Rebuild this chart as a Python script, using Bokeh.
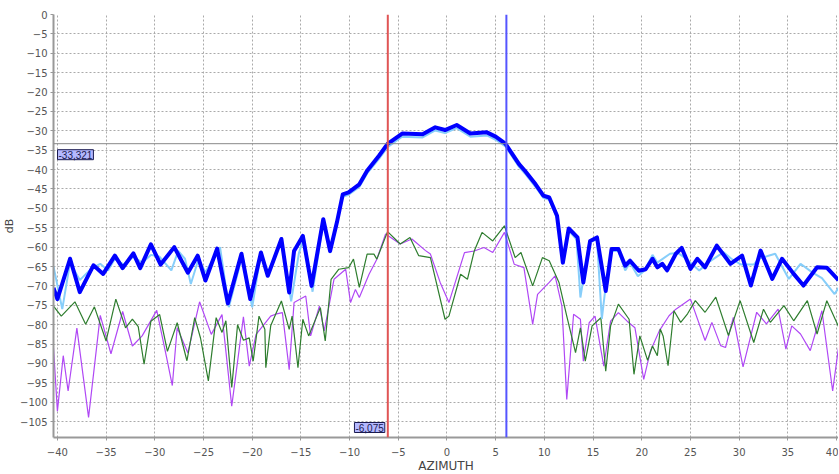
from bokeh.plotting import figure
from bokeh.models import Span, Label, Range1d, SingleIntervalTicker
from bokeh.embed import file_html
from bokeh.resources import INLINE

# ---- data (azimuth in degrees, level in dB) ----
blue_az = [-40.4, -40.0, -38.7, -37.7, -36.3, -35.3, -34.1, -33.3, -32.2, -31.5, -30.4, -29.4, -28.0, -26.6,
           -25.6, -24.8, -23.6, -22.5, -21.1, -20.2, -19.1, -18.4, -17.0, -16.2, -15.7, -14.8, -13.9, -12.7,
           -12.0, -11.3, -10.7, -10.1, -9.0, -8.2, -7.0, -6.1, -4.6, -2.5, -1.2, -0.2, 1.0, 2.4, 4.1, 5.0,
           6.0, 7.4, 8.0, 9.1, 9.9, 10.5, 11.3, 11.9, 12.5, 13.4, 14.0, 14.7, 15.4, 16.3, 16.9, 17.6, 18.3,
           18.8, 19.7, 20.4, 21.1, 21.6, 22.1, 22.6, 23.5, 24.1, 25.0, 25.7, 26.5, 27.7, 29.1, 30.3, 31.2,
           32.2, 33.4, 34.4, 35.6, 36.6, 38.0, 39.0, 40.2]
blue_db = [-70.5, -73.4, -63.0, -71.6, -64.7, -66.9, -62.2, -65.4, -61.6, -65.4, -59.3, -64.5, -60.0, -66.6,
           -62.2, -68.6, -60.4, -74.5, -61.7, -73.4, -61.4, -67.4, -57.9, -71.7, -61.0, -57.1, -70.0, -52.8,
           -61.0, -53.6, -46.4, -45.9, -43.8, -40.3, -36.5, -33.4, -30.7, -30.9, -29.1, -29.8, -28.5, -30.7,
           -30.4, -31.5, -33.3, -38.6, -40.3, -43.8, -46.7, -47.2, -51.9, -64.0, -55.2, -57.5, -69.1, -58.4,
           -57.5, -71.3, -60.5, -60.5, -64.8, -63.5, -66.1, -65.7, -63.0, -65.2, -64.3, -66.0, -61.7, -60.2,
           -65.6, -63.0, -65.2, -59.6, -64.3, -62.2, -69.9, -60.9, -68.2, -63.0, -66.9, -69.9, -65.2, -65.3,
           -68.5]

light_az = [-40.4, -39.5, -38.7, -37.7, -36.5, -35.6, -34.8, -34.1, -33.2, -32.2, -31.3, -30.4, -29.5, -28.3,
            -27.6, -26.9, -26.3, -25.5, -24.8, -23.3, -22.4, -21.0, -20.0, -19.1, -18.4, -17.0, -16.0, -15.2,
            -14.7, -13.8, -12.7, -12.0, -11.3, -10.7, -10.1, -9.0, -8.2, -7.0, -6.1, -4.6, -2.5, -1.2, -0.2,
            1.0, 2.4, 4.1, 5.0, 6.0, 7.4, 8.0, 9.1, 9.9, 10.5, 11.3, 11.9, 12.5, 13.3, 13.7, 14.6, 15.4, 15.9,
            16.3, 16.9, 17.6, 18.3, 18.8, 19.6, 20.3, 21.1, 21.6, 22.9, 23.7, 24.3, 25.9, 26.8, 28.4, 29.2,
            30.2, 31.5, 32.0, 33.7, 35.1, 36.3, 37.5, 38.5, 39.8, 40.2]
light_db = [-65.0, -76.0, -64.0, -68.5, -65.5, -64.3, -66.0, -63.0, -64.5, -62.5, -64.0, -62.0, -62.5, -66.0,
            -61.0, -63.0, -69.5, -63.0, -66.5, -60.0, -75.5, -62.0, -75.5, -61.5, -66.5, -58.5, -74.0, -61.5,
            -57.5, -71.5, -53.5, -61.5, -54.0, -47.0, -46.5, -44.5, -41.0, -37.3, -34.2, -31.5, -31.7, -29.9,
            -30.6, -29.3, -31.5, -31.2, -32.3, -34.0, -39.3, -41.0, -44.5, -47.3, -47.8, -52.5, -63.0, -55.8,
            -58.0, -73.0, -58.8, -58.0, -78.5, -70.0, -61.0, -61.0, -66.0, -64.0, -67.5, -66.0, -62.0, -64.0,
            -61.7, -61.5, -62.5, -66.0, -64.0, -61.3, -63.0, -64.5, -64.5, -63.0, -61.7, -68.2, -64.3, -66.5,
            -68.0, -72.1, -70.5]

green_az = [-40.4, -39.6, -38.2, -37.1, -36.2, -35.0, -34.0, -33.0, -32.3, -31.7, -31.1, -30.4, -29.5, -28.7,
            -27.7, -26.7, -25.9, -25.3, -24.5, -23.7, -23.1, -22.7, -22.1, -21.5, -20.9, -20.3, -19.9, -19.3,
            -18.7, -18.6, -18.1, -17.0, -16.2, -15.9, -15.3, -14.8, -14.2, -13.0, -12.5, -11.9, -11.1, -10.1,
            -9.6, -9.0, -8.2, -7.5, -7.2, -6.1, -4.8, -3.8, -2.9, -1.7, -0.2, 0.2, 1.4, 2.1, 2.8, 3.6, 4.7,
            5.9, 7.0, 7.6, 8.8, 9.8, 10.5, 11.5, 12.3, 13.2, 13.7, 14.2, 14.9, 15.8, 16.3, 16.8, 17.6, 18.7,
            19.2, 19.8, 20.6, 21.1, 21.6, 21.9, 22.2, 22.7, 23.3, 24.0, 24.7, 25.5, 26.5, 27.6, 28.9, 30.1,
            31.5, 32.5, 33.2, 34.6, 35.6, 37.0, 38.0, 39.0, 40.2]
green_db = [-75.2, -77.8, -74.1, -79.9, -75.4, -84.2, -73.4, -80.8, -78.6, -80.5, -90.2, -79.1, -77.4, -86.9,
            -79.5, -89.3, -78.2, -83.5, -94.5, -78.2, -82.0, -79.0, -96.2, -80.0, -84.0, -83.4, -89.4, -77.8,
            -81.2, -91.1, -80.3, -73.9, -81.2, -77.8, -91.1, -78.6, -82.9, -75.6, -84.2, -68.3, -65.7, -65.3,
            -63.1, -70.4, -61.8, -61.8, -63.1, -56.0, -59.2, -57.5, -62.2, -62.7, -78.6, -77.8, -67.0, -68.3,
            -61.0, -56.2, -58.4, -54.5, -62.7, -61.4, -70.0, -62.7, -63.5, -69.1, -77.8, -87.2, -80.8, -89.4,
            -80.3, -78.2, -92.0, -80.3, -74.7, -78.6, -92.8, -82.9, -89.2, -85.5, -88.0, -81.1, -83.0, -90.6,
            -76.4, -79.4, -77.2, -73.8, -76.8, -72.9, -82.8, -73.8, -84.6, -76.0, -79.4, -75.1, -79.0, -73.8,
            -82.4, -73.8, -80.5]

purple_az = [-40.4, -40.0, -39.4, -38.9, -38.0, -36.8, -35.6, -34.5, -33.3, -32.3, -31.3, -29.8, -28.8, -28.2,
             -27.7, -26.6, -25.4, -24.2, -23.1, -22.1, -20.9, -20.3, -19.6, -18.9, -18.1, -17.6, -16.9, -16.2,
             -15.7, -14.5, -14.0, -13.1, -12.6, -11.6, -10.4, -9.9, -9.4, -9.0, -8.0, -7.2, -6.3, -4.8, -3.6,
             -2.2, -1.7, -0.7, 0.2, 1.8, 2.8, 3.8, 4.7, 5.9, 6.9, 7.9, 8.8, 9.3, 10.5, 11.1, 11.8, 12.3, 13.0,
             13.7, 14.0, 14.6, 15.2, 16.1, 16.8, 17.6, 18.5, 19.3, 20.2, 20.9, 21.8, 22.8, 23.5, 25.0, 26.5,
             27.2, 28.1, 28.6, 29.4, 30.4, 31.8, 32.8, 34.0, 34.8, 35.4, 36.3, 37.3, 38.5, 39.6, 40.2]
purple_db = [-86.0, -102.3, -88.0, -97.1, -80.9, -103.9, -77.6, -87.5, -76.6, -85.5, -82.9, -76.3, -88.3, -95.7,
             -80.8, -87.3, -74.1, -82.5, -77.4, -101.0, -78.0, -90.7, -82.5, -80.3, -77.8, -77.3, -76.9, -91.6,
             -74.3, -72.6, -82.9, -75.2, -81.6, -68.3, -65.7, -74.3, -70.9, -73.0, -67.0, -63.1, -56.6, -59.2,
             -57.9, -60.9, -61.8, -69.1, -74.3, -61.4, -61.0, -60.1, -61.4, -56.2, -64.4, -65.3, -79.9, -72.2,
             -69.1, -67.4, -75.2, -99.3, -77.3, -78.6, -89.4, -79.5, -77.8, -90.7, -79.1, -76.9, -79.1, -80.8,
             -94.1, -86.7, -81.6, -77.7, -76.0, -73.4, -84.1, -79.4, -85.4, -85.9, -78.1, -90.9, -76.8, -79.8,
             -76.0, -86.3, -80.3, -82.4, -86.7, -76.4, -97.1, -85.9]

marker_level = -33.321
marker_left = -6.075
marker_right = 6.1
level_text = "-33,321"
left_text = "-6,075"

x_lo, x_hi = -40.4, 40.2
y_lo, y_hi = -109.1, 0

p = figure(frame_width=785, frame_height=423, output_backend="svg", toolbar_location=None,
           x_range=Range1d(x_lo, x_hi), y_range=Range1d(y_lo, y_hi),
           min_border_left=46, min_border_right=0, min_border_top=14, min_border_bottom=34)
p.outline_line_color = None
p.background_fill_color = "white"
p.border_fill_color = "white"

for ax in (p.xaxis[0], p.yaxis[0]):
    ax.ticker = SingleIntervalTicker(interval=5)
    ax.minor_tick_line_color = None
    ax.major_tick_in = 0
    ax.major_tick_out = 3
    ax.major_tick_line_color = "#999999"
    ax.axis_line_color = "#999999"
    ax.axis_line_width = 2
    ax.major_label_text_font = "DejaVu Sans"
    ax.major_label_text_font_size = "10px"
    ax.major_label_text_color = "#555555"
    ax.major_label_standoff = 2
    ax.axis_label_text_font = "DejaVu Sans"
    ax.axis_label_text_font_style = "normal"
    ax.axis_label_text_color = "#444444"

p.xaxis.axis_label = "AZIMUTH"
p.xaxis.axis_label_text_font_size = "12px"
p.xaxis.major_label_standoff = 6
p.xaxis.axis_label_standoff = 0
p.yaxis.axis_label = "dB"
p.yaxis.axis_label_text_font_size = "11px"
p.yaxis.axis_label_standoff = 1

p.grid.grid_line_color = "#aaaaaa"
p.grid.grid_line_dash = "2 2"
p.grid.grid_line_width = 1
p.xgrid.ticker = SingleIntervalTicker(interval=5)
p.ygrid.ticker = SingleIntervalTicker(interval=5)

p.line(purple_az, purple_db, line_color="#b048f5", line_width=1.2)
p.line(green_az, green_db, line_color="#2e7d2e", line_width=1.2)
p.line(light_az, light_db, line_color="#87cefa", line_width=2)
p.line(blue_az, blue_db, line_color="#0000ff", line_width=4, line_join="round")

p.add_layout(Span(location=marker_level, dimension="width", line_color="#888888", line_width=1))
p.add_layout(Span(location=marker_left, dimension="height", line_color="#e05555", line_width=2))
p.add_layout(Span(location=marker_right, dimension="height", line_color="#5555ff", line_width=2))

p.add_layout(Label(x=x_lo, y=marker_level, text=level_text, x_offset=4, y_offset=-6,
                   text_baseline="top", text_align="left", text_font="Liberation Sans",
                   text_font_size="10px", text_color="#1a1a50", background_fill_color="#b4b8ff",
                   border_line_color="#1a1a50", padding=1))
p.add_layout(Label(x=marker_left, y=y_lo, text=left_text, x_offset=-3, y_offset=5,
                   text_baseline="bottom", text_align="right", text_font="Liberation Sans",
                   text_font_size="10px", text_color="#1a1a50", background_fill_color="#b4b8ff",
                   border_line_color="#1a1a50", padding=1))

open("out.html", "w").write(file_html(p, INLINE))
